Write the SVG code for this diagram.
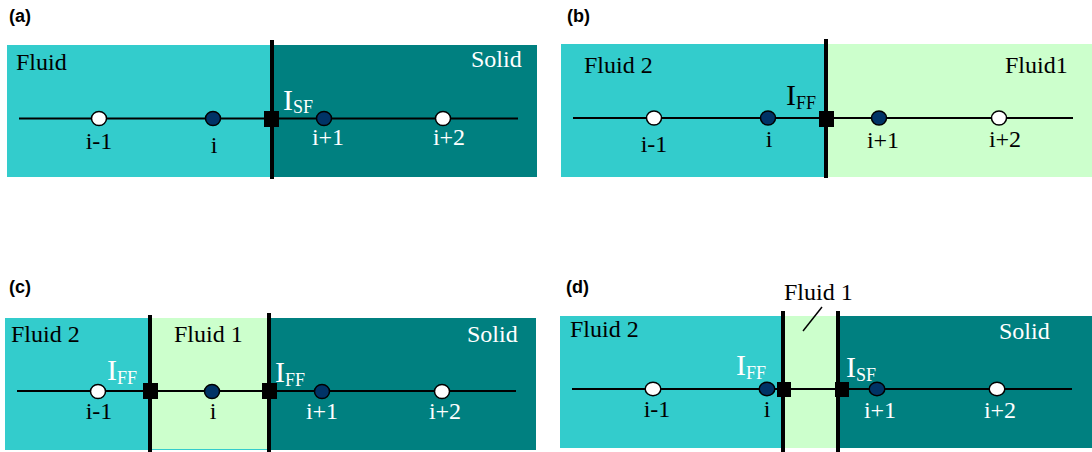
<svg xmlns="http://www.w3.org/2000/svg" width="1092" height="452" viewBox="0 0 1092 452">
  <style>
    .fl2 { fill: #33CCCC; }
    .fl1 { fill: #CCFFCC; }
    .sol { fill: #008080; }
    .axis { stroke: #000; stroke-width: 2; fill: none; }
    .wall { stroke: #000; stroke-width: 4; fill: none; }
    .iface { fill: #000; }
    .ghost { fill: #FFFFFF; stroke: #000; stroke-width: 1.5; }
    .cell { fill: #003366; stroke: #000; stroke-width: 1.5; }
    .tag { font-family: "Liberation Sans", Arial, sans-serif; font-weight: bold; font-size: 18px; fill: #000; }
    .reg { font-family: "Liberation Serif", "Times New Roman", serif; font-size: 24px; }
    .idx { font-family: "Liberation Serif", "Times New Roman", serif; font-size: 24px; text-anchor: middle; }
    .itf { font-family: "Liberation Serif", "Times New Roman", serif; font-size: 30px; }
    .sub { font-size: 18px; }
    .dk { fill: #000; }
    .wt { fill: #FFFFFF; }
  </style>

  <!-- (a) fluid / solid -->
  <g id="panel-a">
    <text class="tag" x="9" y="22">(a)</text>
    <rect class="fl2" x="7" y="45" width="265" height="132"/>
    <rect class="sol" x="272" y="45" width="265" height="132"/>
    <text class="reg dk" x="16" y="70">Fluid</text>
    <text class="reg wt" x="471" y="67">Solid</text>
    <line class="axis" x1="19" y1="118.5" x2="518" y2="118.5"/>
    <line class="wall" x1="272" y1="40" x2="272" y2="179"/>
    <rect class="iface" x="264" y="111" width="15" height="16"/>
    <ellipse class="ghost" cx="99" cy="118.5" rx="7.5" ry="7"/>
    <ellipse class="cell" cx="213" cy="118.5" rx="7.5" ry="7"/>
    <ellipse class="cell" cx="324" cy="118.5" rx="7.5" ry="7"/>
    <ellipse class="ghost" cx="443" cy="118.5" rx="7.5" ry="7"/>
    <text class="idx dk" x="99" y="149">i-1</text>
    <text class="idx dk" x="214" y="153">i</text>
    <text class="idx wt" x="328" y="145">i+1</text>
    <text class="idx wt" x="449" y="145">i+2</text>
    <text class="itf wt" x="283" y="110">I<tspan class="sub" dy="3">SF</tspan></text>
  </g>

  <!-- (b) fluid / fluid -->
  <g id="panel-b">
    <text class="tag" x="567" y="22">(b)</text>
    <rect class="fl2" x="561" y="44" width="265" height="133"/>
    <rect class="fl1" x="826" y="44" width="266" height="133"/>
    <text class="reg dk" x="584" y="73">Fluid 2</text>
    <text class="reg dk" x="1005" y="73">Fluid1</text>
    <line class="axis" x1="573" y1="118" x2="1073" y2="118"/>
    <line class="wall" x1="826" y1="39" x2="826" y2="178"/>
    <rect class="iface" x="819" y="111" width="15" height="16"/>
    <ellipse class="ghost" cx="654" cy="118" rx="7.5" ry="7"/>
    <ellipse class="cell" cx="768" cy="118" rx="7.5" ry="7"/>
    <ellipse class="cell" cx="879" cy="118" rx="7.5" ry="7"/>
    <ellipse class="ghost" cx="999" cy="118" rx="7.5" ry="7"/>
    <text class="idx dk" x="654" y="152">i-1</text>
    <text class="idx dk" x="769" y="147">i</text>
    <text class="idx dk" x="883" y="148">i+1</text>
    <text class="idx dk" x="1005" y="147">i+2</text>
    <text class="itf dk" x="786" y="105">I<tspan class="sub" dy="4">FF</tspan></text>
  </g>

  <!-- (c) fluid / fluid / solid -->
  <g id="panel-c">
    <text class="tag" x="9" y="293">(c)</text>
    <rect class="fl2" x="5" y="318" width="145" height="132"/>
    <rect class="fl1" x="150" y="318" width="119" height="131"/>
    <line x1="150" y1="449.5" x2="269" y2="449.5" stroke="#33CCCC" stroke-width="1"/>
    <rect class="sol" x="269" y="318" width="267" height="132"/>
    <text class="reg dk" x="11" y="342">Fluid 2</text>
    <text class="reg dk" x="174" y="342">Fluid 1</text>
    <text class="reg wt" x="467" y="342">Solid</text>
    <line class="axis" x1="17" y1="391" x2="516" y2="391"/>
    <line class="wall" x1="150" y1="315" x2="150" y2="452"/>
    <line class="wall" x1="269" y1="313" x2="269" y2="452"/>
    <rect class="iface" x="143" y="383" width="15" height="16"/>
    <rect class="iface" x="262" y="383" width="15" height="16"/>
    <ellipse class="ghost" cx="98" cy="391.5" rx="7.5" ry="7"/>
    <ellipse class="cell" cx="212" cy="391.5" rx="7.5" ry="7"/>
    <ellipse class="cell" cx="322" cy="391.5" rx="7.5" ry="7"/>
    <ellipse class="ghost" cx="442" cy="391.5" rx="7.5" ry="7"/>
    <text class="idx dk" x="99" y="419">i-1</text>
    <text class="idx dk" x="213" y="419">i</text>
    <text class="idx wt" x="322" y="419">i+1</text>
    <text class="idx wt" x="445" y="419">i+2</text>
    <text class="itf wt" x="107" y="380">I<tspan class="sub" dy="4">FF</tspan></text>
    <text class="itf wt" x="275" y="382">I<tspan class="sub" dy="4">FF</tspan></text>
  </g>

  <!-- (d) fluid / thin fluid layer / solid -->
  <g id="panel-d">
    <text class="tag" x="566" y="293">(d)</text>
    <rect class="fl2" x="560" y="316" width="223" height="132"/>
    <rect class="fl1" x="783" y="316" width="55" height="132"/>
    <rect class="sol" x="838" y="316" width="254" height="132"/>
    <text class="reg dk" x="570" y="337">Fluid 2</text>
    <text class="reg wt" x="999" y="339">Solid</text>
    <text class="reg dk" x="784" y="300">Fluid 1</text>
    <line x1="822" y1="307" x2="803" y2="331" stroke="#000" stroke-width="1.5"/>
    <line class="axis" x1="572" y1="389" x2="1072" y2="389" stroke-width="1.5"/>
    <line class="wall" x1="783" y1="311" x2="783" y2="452"/>
    <line class="wall" x1="838" y1="311" x2="838" y2="452"/>
    <rect class="iface" x="777" y="382" width="14" height="15"/>
    <rect class="iface" x="835" y="382" width="14" height="15"/>
    <ellipse class="ghost" cx="653" cy="389" rx="7.8" ry="6.7"/>
    <ellipse class="cell" cx="767" cy="389" rx="7.8" ry="6.7"/>
    <ellipse class="cell" cx="877" cy="389" rx="7.8" ry="6.7"/>
    <ellipse class="ghost" cx="997" cy="389" rx="7.8" ry="6.7"/>
    <text class="idx dk" x="657" y="417">i-1</text>
    <text class="idx dk" x="767" y="417">i</text>
    <text class="idx wt" x="880" y="418">i+1</text>
    <text class="idx wt" x="1000" y="418">i+2</text>
    <text class="itf wt" x="736" y="375">I<tspan class="sub" dy="4">FF</tspan></text>
    <text class="itf wt" x="846" y="377">I<tspan class="sub" dy="4">SF</tspan></text>
  </g>
</svg>
